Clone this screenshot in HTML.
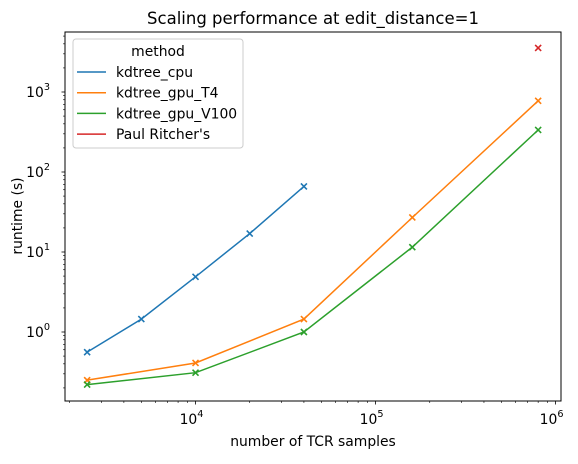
<!DOCTYPE html>
<html><head><meta charset="utf-8"><style>
body{margin:0;background:#fff;}
svg text{font-family:"DejaVu Sans","Liberation Sans",sans-serif;fill:#000;}
</style></head><body>
<svg id="chart" width="578" height="459" xmlns="http://www.w3.org/2000/svg">
<rect width="578" height="459" fill="#fff"/>
<text x="313" y="24" font-size="16.5" text-anchor="middle">Scaling performance at edit_distance=1</text>
<g id="grid"></g>
<g id="plot"></g>
<rect x="65" y="32" width="496" height="369" fill="none" stroke="#000" stroke-width="1"/>
<text x="313" y="446" font-size="13.9" text-anchor="middle">number of TCR samples</text>
<text transform="translate(22,216) rotate(-90)" font-size="13.9" text-anchor="middle">runtime (s)</text>
<g id="legend">
<rect x="73" y="39" width="170" height="109" rx="3" fill="#fff" fill-opacity="0.8" stroke="#ccc"/>
<text x="158" y="56" font-size="13.9" text-anchor="middle">method</text>
</g>
</svg>
<script>
const series = ["kdtree_cpu","kdtree_gpu_T4","kdtree_gpu_V100","Paul Ritcher's"];
const colors = ["#1f77b4","#ff7f0e","#2ca02c","#d62728"];
const cpuX = [2500,5000,10000,20000,40000];
const cpuY = [0.56,1.45,4.9,17,66];
const t4X = [2500,10000,40000,160000,800000];
const t4Y = [0.25,0.41,1.45,27,775];
const v100X = [2500,10000,40000,160000,800000];
const v100Y = [0.22,0.31,1.0,11.5,335];
const paulX = [800000];
const paulY = [3550];
const xTickExp = [4,5,6];
const yTickExp = [0,1,2,3];

const L=65,R=561,T=32,B=401;
const xMin=3.275,xMax=6.03,yMin=-0.8625,yMax=3.75;
const sx=v=>L+(Math.log10(v)-xMin)/(xMax-xMin)*(R-L);
const sy=v=>B-(Math.log10(v)-yMin)/(yMax-yMin)*(B-T);
const NS="http://www.w3.org/2000/svg";
const g=document.getElementById('grid'), p=document.getElementById('plot'), lg=document.getElementById('legend');
function mk(tag,attrs,parent){const e=document.createElementNS(NS,tag);for(const k in attrs)e.setAttribute(k,attrs[k]);parent.appendChild(e);return e;}
for(let d=3;d<=6;d++){for(let m=1;m<10;m++){const v=m*Math.pow(10,d);const lv=Math.log10(v);if(lv<xMin||lv>xMax)continue;const x=sx(v);
const t=mk('line',{x1:x,x2:x,y1:B,y2:B+(m===1?3.5:2),stroke:'#000','stroke-width':m===1?0.8:0.6},g);

}}
xTickExp.forEach(e=>{const x=sx(Math.pow(10,e));const t=mk('text',{x:x-4,y:B+23,'font-size':13.9,'text-anchor':'middle'},g);t.textContent='10';
const s=mk('tspan',{dy:-7,'font-size':9.7},t);s.textContent=e;

});
for(let d=-1;d<=3;d++){for(let m=1;m<10;m++){const v=m*Math.pow(10,d);const lv=Math.log10(v);if(lv<yMin||lv>yMax)continue;const y=sy(v);
const t=mk('line',{x1:L,x2:L-(m===1?3.5:2),y1:y,y2:y,stroke:'#000','stroke-width':m===1?0.8:0.6},g);

}}
yTickExp.forEach(e=>{const y=sy(Math.pow(10,e));const t=mk('text',{x:L-15,y:y+5,'font-size':13.9,'text-anchor':'end'},g);t.textContent='10';
const s=mk('tspan',{dy:-7,'font-size':9.7},t);s.textContent=e;

});
const data=[[cpuX,cpuY],[t4X,t4Y],[v100X,v100Y],[paulX,paulY]];
data.forEach(([xs,ys],i)=>{
 if(xs.length>1){const pl=mk('polyline',{points:xs.map((x,j)=>sx(x)+','+sy(ys[j])).join(' '),fill:'none',stroke:colors[i],'stroke-width':1.5},p);
 
 }
 xs.forEach((x,j)=>{const cx=sx(x),cy=sy(ys[j]),r=3;
 const m=mk('path',{d:`M${cx-r},${cy-r}L${cx+r},${cy+r}M${cx-r},${cy+r}L${cx+r},${cy-r}`,stroke:colors[i],'stroke-width':1.6},p);
 
 });
});
series.forEach((s,i)=>{const y=72+i*20.7;
 const ln=mk('line',{x1:77,x2:106,y1:y,y2:y,stroke:colors[i],'stroke-width':1.5},lg);
 
 
 const t=mk('text',{x:116,y:y+5,'font-size':13.9},lg);t.textContent=s;
 
 });
</script>
</body></html>
